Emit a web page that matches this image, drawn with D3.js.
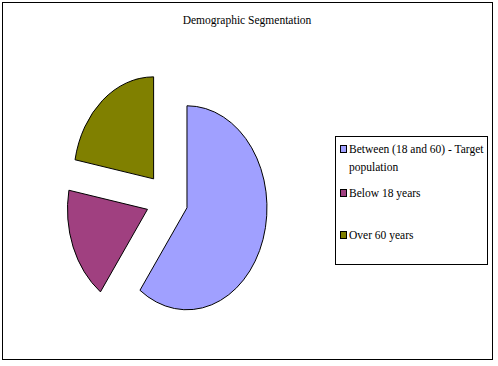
<!DOCTYPE html>
<html>
<head>
<meta charset="utf-8">
<script src="https://cdn.jsdelivr.net/npm/d3@7"></script>
<style>
  body { margin: 0; background: #fff; }
</style>
</head>
<body>
<div id="chart"></div>
<script>
// data
var categories = ["Between (18 and 60) - Target population", "Below 18 years", "Over 60 years"];
var shares = [60, 18, 22];
var colors = ["#a0a0ff", "#a04080", "#808000"];
var title = "Demographic Segmentation";

var svgWidth = 498, svgHeight = 366;
var serif = "'Liberation Serif', 'Times New Roman', serif";

var svg = d3.select("#chart")
  .append("svg")
  .attr("width", svgWidth)
  .attr("height", svgHeight);

// outer frame
svg.append("rect")
  .attr("x", 2.5).attr("y", 2.5)
  .attr("width", 490).attr("height", 357)
  .attr("fill", "none")
  .attr("stroke", "#000");

svg.append("text")
  .attr("x", 247).attr("y", 24)
  .attr("text-anchor", "middle")
  .style("font-family", serif)
  .style("font-size", "11.5px")
  .text(title);

// pie (drawn as a circle then squashed into an ellipse)
var rx = 80, ry = 102, explode = 21;
var pie = d3.pie().sort(null).value(d => d);
var arc = d3.arc().innerRadius(0).outerRadius(rx);

var pieGroup = svg.append("g")
  .attr("transform", `translate(167, 199.5) scale(1, ${ry / rx})`);

pieGroup.selectAll("path")
  .data(pie(shares))
  .enter()
  .append("path")
  .attr("d", arc)
  .attr("transform", d => {
    var mid = (d.startAngle + d.endAngle) / 2;
    return `translate(${explode * Math.sin(mid)}, ${-explode * Math.cos(mid)})`;
  })
  .attr("fill", (d, i) => colors[i])
  .attr("stroke", "#000")
  .attr("stroke-width", 1)
  .attr("vector-effect", "non-scaling-stroke");

// legend
var legend = svg.append("g");
legend.append("rect")
  .attr("x", 335.5).attr("y", 136.5)
  .attr("width", 152).attr("height", 128)
  .attr("fill", "#fff")
  .attr("stroke", "#000");

var legendRows = [
  { lines: ["Between (18 and 60) - Target", "population"], y: 145 },
  { lines: ["Below 18 years"], y: 189 },
  { lines: ["Over 60 years"], y: 231 }
];

legendRows.forEach((row, i) => {
  legend.append("rect")
    .attr("x", 340.5).attr("y", row.y + 0.5)
    .attr("width", 6).attr("height", 7)
    .attr("fill", colors[i])
    .attr("stroke", "#000");
  row.lines.forEach((line, j) => {
    legend.append("text")
      .attr("x", 349)
      .attr("y", row.y + 8 + j * 18)
      .style("font-family", serif)
      .style("font-size", "11.5px")
      .text(line);
  });
});
</script>
</body>
</html>
